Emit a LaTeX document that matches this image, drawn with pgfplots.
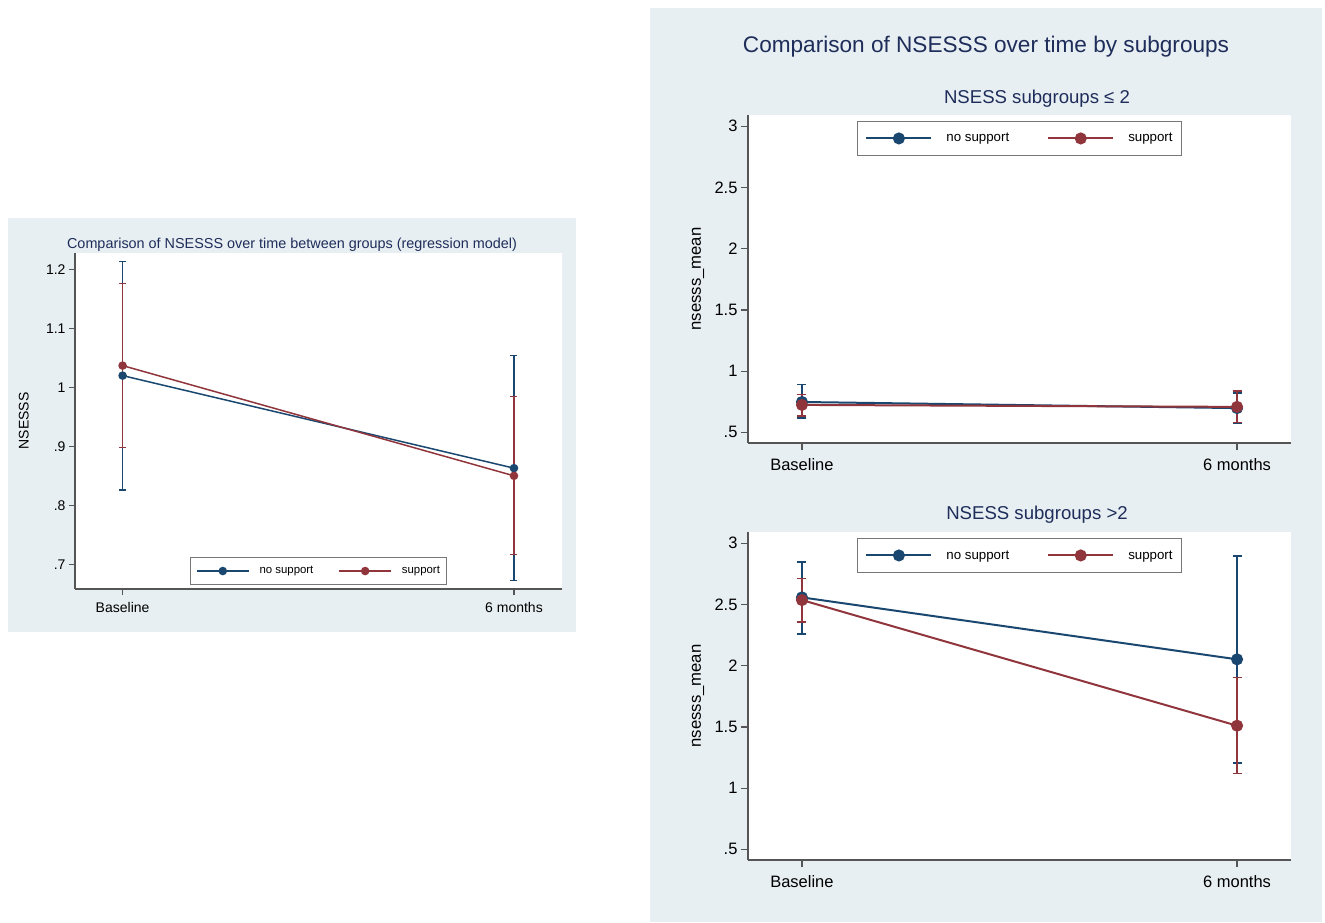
\documentclass[border=0pt]{standalone}
\usepackage{pgfplots}
\pgfplotsset{compat=1.18}
\usepackage{fontspec}
\setmainfont{Liberation Sans}
\definecolor{bgc}{RGB}{232,239,242}
\definecolor{sblue}{RGB}{26,71,111}
\definecolor{sred}{RGB}{144,53,59}
\definecolor{ttl}{RGB}{30,45,90}
\definecolor{axc}{RGB}{85,85,85}
\newcommand\fs[1]{\fontsize{#1}{#1}\selectfont}

\pgfplotsset{
 stata/.style={
  scale only axis, anchor=south west,
  axis lines*=left, axis line style={axc, line width=1.2pt},
  axis background/.style={fill=white},
  xmin=-0.124, xmax=1.124,
  xtick={0,1}, xticklabels={Baseline,6 months},
  xtick pos=bottom, ytick pos=left, tick align=outside,
  major tick length=7pt, tick style={axc, line width=1.2pt},
  clip=false,
  legend columns=2,
  legend cell align=left,
 },
 big/.style={
  ticklabel style={font=\fs{16.5}},
  xticklabel style={yshift=-5pt},
  ymin=0.413, ymax=3.092,
  ytick={0.5,1,1.5,2,2.5,3}, yticklabels={.5,1,1.5,2,2.5,3},
  ylabel={nsesss\_mean},
  ylabel style={font=\fs{16.7}, at={(axis description cs:-0.092,0.5)}, anchor=center},
  legend image code/.code={\draw[mark repeat=2, mark phase=2, #1] plot coordinates {(0pt,0pt) (32.5pt,0pt) (65pt,0pt)};},
  legend style={at={(0.5,0.982)}, anchor=north, draw=axc!80, fill=white, line width=1pt,
    font=\fs{13.3}, inner xsep=8pt, inner ysep=11pt, nodes={inner sep=1pt},
    /tikz/every odd column/.append style={column sep=13pt},
    /tikz/every even column/.append style={column sep=37pt}},
 },
 nsB/.style={sblue, line width=2pt, mark=*, mark size=5pt, mark options={solid, fill=sblue},
   error bars/y dir=both, error bars/y explicit,
   error bars/error bar style={sblue, line width=1.6pt},
   error bars/error mark options={rotate=90, sblue, mark size=4.5pt, line width=1.6pt}},
 sB/.style={sred, line width=2pt, mark=*, mark size=5pt, mark options={solid, fill=sred},
   error bars/y dir=both, error bars/y explicit,
   error bars/error bar style={sred, line width=1.6pt},
   error bars/error mark options={rotate=90, sred, mark size=4.5pt, line width=1.6pt}},
 nsS/.style={sblue, line width=1.5pt, mark=*, mark size=3.5pt, mark options={solid, fill=sblue},
   error bars/y dir=both, error bars/y explicit,
   error bars/error bar style={sblue, line width=1.3pt},
   error bars/error mark options={rotate=90, sblue, mark size=3.5pt, line width=1.3pt}},
 sS/.style={sred, line width=1.5pt, mark=*, mark size=3.5pt, mark options={solid, fill=sred},
   error bars/y dir=both, error bars/y explicit,
   error bars/error bar style={sred, line width=1.3pt},
   error bars/error mark options={rotate=90, sred, mark size=3.5pt, line width=1.3pt}},
}

\begin{document}
\begin{tikzpicture}[x=1pt,y=1pt]
\path[use as bounding box] (0,0) rectangle (1325,922);
% panel backgrounds
\fill[bgc] (8,922-632) rectangle (576,922-218);
\fill[bgc] (650,0) rectangle (1322,922-8);

% ---------- left panel ----------
\begin{axis}[stata, at={(75pt,333pt)}, width=487pt, height=336pt,
  xmin=-0.1216, xmax=1.1227, ymin=0.658, ymax=1.228,
  ticklabel style={font=\fs{14}},
  xticklabel style={yshift=-4pt},
  ytick={0.7,0.8,0.9,1,1.1,1.2}, yticklabels={.7,.8,.9,1,1.1,1.2},
  major tick length=6pt,
  ylabel={NSESSS},
  ylabel style={font=\fs{14}, at={(axis description cs:-0.105,0.5)}, anchor=center},
  legend image code/.code={\draw[mark repeat=2, mark phase=2, #1] plot coordinates {(0pt,0pt) (26pt,0pt) (52pt,0pt)};},
  legend style={at={(0.5,0.012)}, anchor=south, draw=axc!80, fill=white, line width=1pt,
    font=\fs{11.4}, inner xsep=6pt, inner ysep=8pt, nodes={inner sep=1pt},
    /tikz/every odd column/.append style={column sep=9pt},
    /tikz/every even column/.append style={column sep=24pt}},
]
\addplot[nsS] coordinates {(0,1.020) += (0,0.194) -= (0,0.194) (1,0.863) += (0,0.191) -= (0,0.191)};
\addlegendentry{no support}
\addplot[sS] coordinates {(0,1.037) += (0,0.139) -= (0,0.139) (1,0.850) += (0,0.134) -= (0,0.134)};
\addlegendentry{support}
\end{axis}
\node[ttl, font=\fs{14.4}] at (292,922-245) {Comparison of NSESSS over time between groups (regression model)};

% ---------- right panel ----------
\node[ttl, font=\fs{22.6}] at (986,922-47) {Comparison of NSESSS over time by subgroups};

\begin{axis}[stata, big, at={(748pt,479pt)}, width=543pt, height=328pt]
\addplot[nsB] coordinates {(0,0.748) += (0,0.144) -= (0,0.133) (1,0.698) += (0,0.122) -= (0,0.122)};
\addlegendentry{no support}
\addplot[sB] coordinates {(0,0.724) += (0,0.085) -= (0,0.089) (1,0.708) += (0,0.128) -= (0,0.127)};
\addlegendentry{support}
\end{axis}
\node[ttl, font=\fs{18.6}] at (1037,922-99) {NSESS subgroups ≤ 2};

\begin{axis}[stata, big, at={(748pt,62pt)}, width=543pt, height=328pt]
\addplot[nsB] coordinates {(0,2.558) += (0,0.291) -= (0,0.299) (1,2.052) += (0,0.844) -= (0,0.847)};
\addlegendentry{no support}
\addplot[sB] coordinates {(0,2.536) += (0,0.177) -= (0,0.177) (1,1.510) += (0,0.395) -= (0,0.389)};
\addlegendentry{support}
\end{axis}
\node[ttl, font=\fs{18.6}] at (1037,922-515) {NSESS subgroups >2};
\end{tikzpicture}
\end{document}
